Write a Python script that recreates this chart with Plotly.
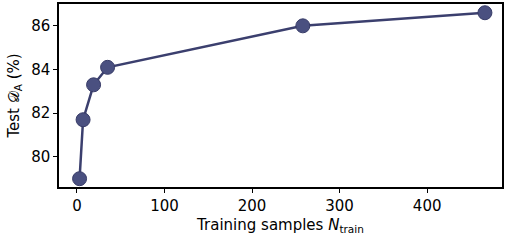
import plotly.graph_objects as go

n_train = [3, 7, 19, 35, 258, 466]
test_acc = [79.0, 81.7, 83.3, 84.1, 86.0, 86.6]
x_ticks = [0, 100, 200, 300, 400]
y_ticks = [80, 82, 84, 86]

fig = go.Figure()
fig.add_trace(go.Scatter(
    x=n_train, y=test_acc, mode="lines+markers",
    line=dict(color="#3b3f6e", width=2.5),
    marker=dict(size=14, color="#4a5080", line=dict(color="#383c68", width=1)),
    showlegend=False,
))

axis_common = dict(
    showline=True, linecolor="black", linewidth=1.5, mirror=True,
    ticks="outside", ticklen=4, tickwidth=1.2, tickcolor="black",
    showgrid=False, zeroline=False, automargin=False,
    tickfont=dict(family="DejaVu Sans", size=15, color="black"),
)

fig.update_layout(
    width=510, height=241,
    margin=dict(l=59, r=8, t=4, b=54),
    paper_bgcolor="white", plot_bgcolor="white",
    font=dict(family="DejaVu Sans", color="black"),
    xaxis=dict(range=[-20.5, 485.5], tickvals=x_ticks,
               title=dict(text="Training samples <i>N</i><sub>train</sub>",
                          font=dict(size=15), standoff=6),
               **axis_common),
    yaxis=dict(range=[78.62, 87.0], tickvals=y_ticks,
               title=dict(text="Test 𝒟<sub>A</sub> (%)", font=dict(size=15), standoff=8),
               **axis_common),
)

fig.write_html("out.html", config={"displayModeBar": False},
               post_script="document.body.style.margin='0';document.body.style.overflow='hidden';")
